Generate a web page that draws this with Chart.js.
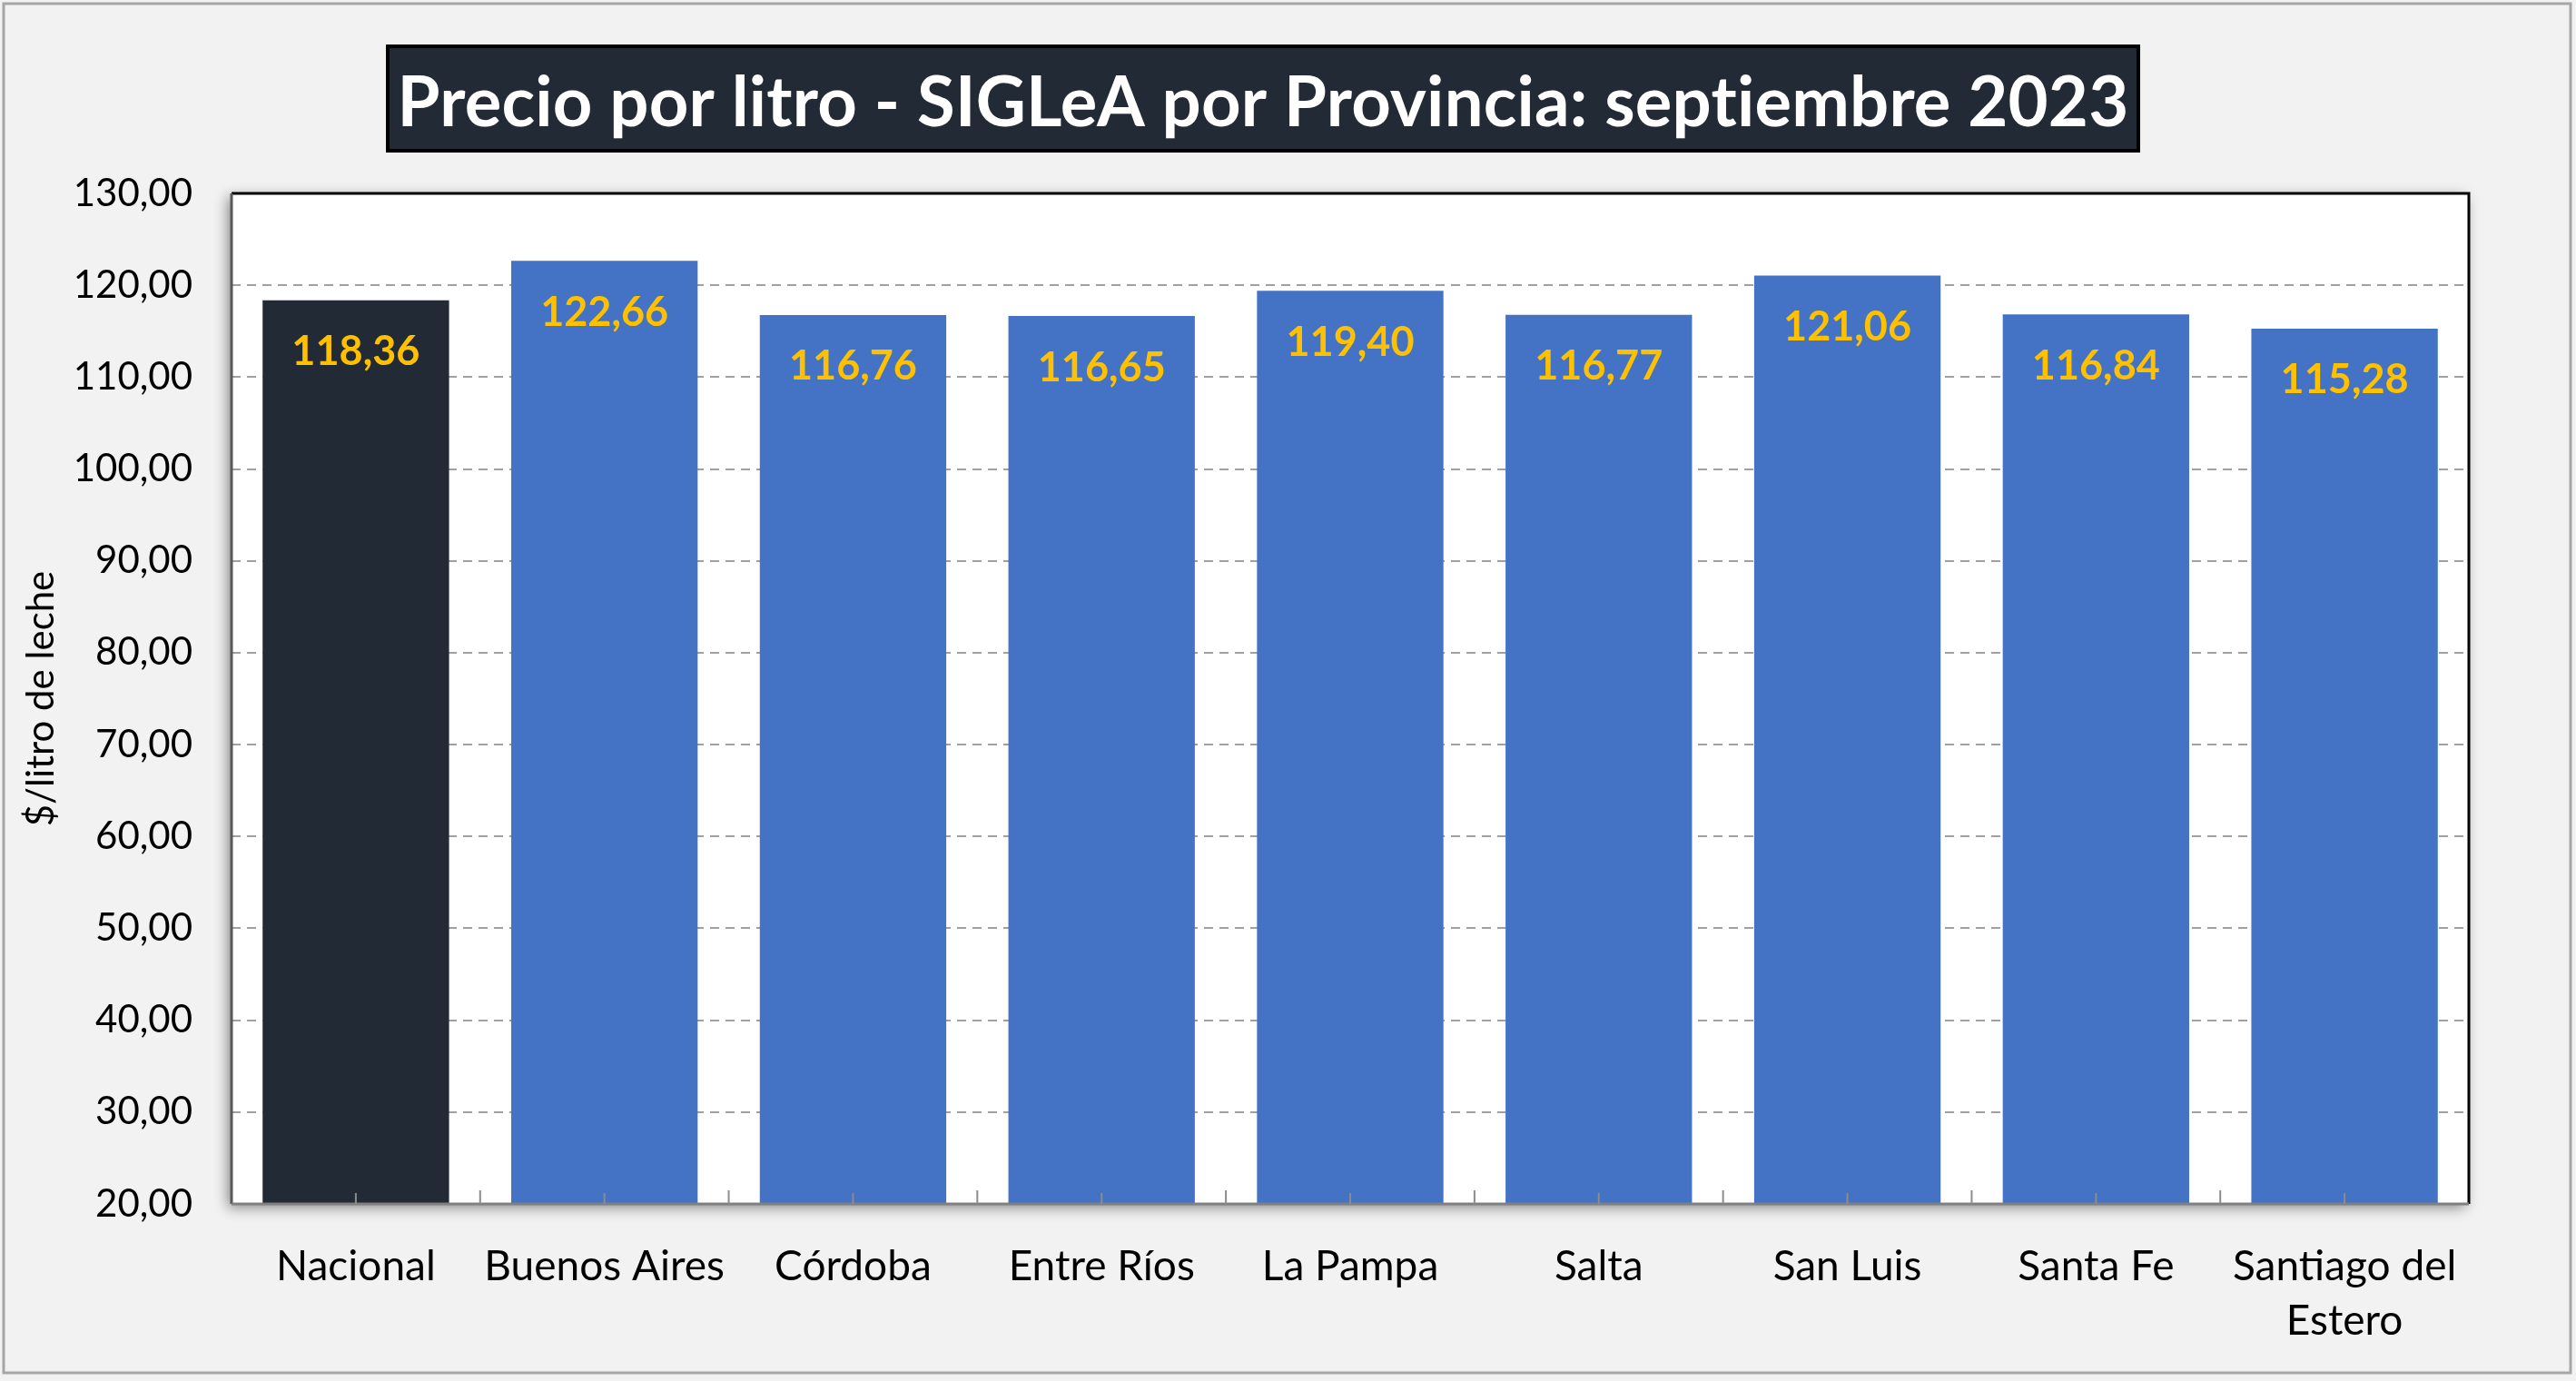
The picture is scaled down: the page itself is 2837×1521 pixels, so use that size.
<!DOCTYPE html>
<html>
<head>
<meta charset="utf-8">
<script src="https://cdn.jsdelivr.net/npm/chart.js@4.4.0/dist/chart.umd.min.js"></script>
<style>
  body { margin: 0; background: #ffffff; }
  #wrap { width: 2837px; height: 1521px; }
</style>
</head>
<body>
<div id="wrap"><canvas id="barChart" width="2837" height="1521"></canvas></div>
<script>
var provincias = ["Nacional", "Buenos Aires", "Córdoba", "Entre Ríos", "La Pampa", "Salta", "San Luis", "Santa Fe", ["Santiago del", "Estero"]];
var precios = [118.36, 122.66, 116.76, 116.65, 119.40, 116.77, 121.06, 116.84, 115.28];
var colores = ["#222a35", "#4472c4", "#4472c4", "#4472c4", "#4472c4", "#4472c4", "#4472c4", "#4472c4", "#4472c4"];
var titulo = "Precio por litro - SIGLeA por Provincia: septiembre 2023";
var tituloEje = "$/litro de leche";

var fuente = "Lato, 'Open Sans', sans-serif";
var coma = function (v) {
    return Number(v).toFixed(2).replace('.', ',');
};

// fondo gris, marco y area del grafico
var fondo = {
    id: 'fondo',
    beforeDraw: function (chart) {
        var ctx = chart.ctx;
        var a = chart.chartArea;
        ctx.save();
        ctx.fillStyle = '#f2f2f2';
        ctx.fillRect(0, 0, chart.width, chart.height);
        ctx.strokeStyle = '#a6a6a6';
        ctx.lineWidth = 3;
        ctx.strokeRect(4, 4, 2827, 1508);
        ctx.shadowColor = 'rgba(0,0,0,0.45)';
        ctx.shadowBlur = 14;
        ctx.shadowOffsetX = -4;
        ctx.shadowOffsetY = 4;
        ctx.fillStyle = '#ffffff';
        ctx.fillRect(a.left, a.top, a.right - a.left, a.bottom - a.top);
        ctx.restore();

        // titulo en caja oscura
        ctx.save();
        ctx.fillStyle = '#222a35';
        ctx.fillRect(427, 51, 1928, 115);
        ctx.strokeStyle = '#000000';
        ctx.lineWidth = 4;
        ctx.strokeRect(427, 51, 1928, 115);
        ctx.fillStyle = '#ffffff';
        ctx.font = "bold 76px " + fuente;
        ctx.letterSpacing = '0.2px';
        ctx.textAlign = 'center';
        ctx.textBaseline = 'middle';
        ctx.fillText(titulo, 1391, 114);
        ctx.restore();
    },
    afterDraw: function (chart) {
        var ctx = chart.ctx;
        var a = chart.chartArea;
        ctx.save();
        ctx.lineWidth = 3;
        ctx.strokeStyle = '#000000';
        ctx.beginPath();
        ctx.moveTo(a.left, a.top);
        ctx.lineTo(a.right, a.top);
        ctx.lineTo(a.right, a.bottom);
        ctx.stroke();
        ctx.strokeStyle = '#595959';
        ctx.beginPath();
        ctx.moveTo(a.left, a.top);
        ctx.lineTo(a.left, a.bottom);
        ctx.stroke();
        ctx.strokeStyle = '#808080';
        ctx.beginPath();
        ctx.moveTo(a.left, a.bottom);
        ctx.lineTo(a.right, a.bottom);
        ctx.stroke();

        // marcas cortas del eje x (centros y limites de categoria)
        var x = chart.scales.x;
        var paso = (a.right - a.left) / provincias.length;
        ctx.strokeStyle = '#8c8c8c';
        ctx.lineWidth = 2;
        ctx.beginPath();
        provincias.forEach(function (p, i) {
            var cx = x.getPixelForValue(i);
            ctx.moveTo(cx, a.bottom);
            ctx.lineTo(cx, a.bottom - 12);
            if (i > 0) {
                ctx.moveTo(cx - paso / 2, a.bottom);
                ctx.lineTo(cx - paso / 2, a.bottom - 15);
            }
        });
        ctx.stroke();
        ctx.restore();
    }
};

// etiquetas amarillas dentro de cada barra
var etiquetas = {
    id: 'etiquetas',
    afterDatasetsDraw: function (chart) {
        var ctx = chart.ctx;
        var meta = chart.getDatasetMeta(0);
        ctx.save();
        ctx.fillStyle = '#ffc000';
        ctx.font = "bold 45px " + fuente;
        ctx.textAlign = 'center';
        ctx.textBaseline = 'middle';
        meta.data.forEach(function (bar, i) {
            ctx.fillText(coma(precios[i]), bar.x, bar.y + 57);
        });
        ctx.restore();
    }
};

var ctx = document.getElementById("barChart").getContext("2d");
new Chart(ctx, {
    type: 'bar',
    data: {
        labels: provincias,
        datasets: [
            {
                label: titulo,
                data: precios,
                backgroundColor: colores,
                borderWidth: 0,
                barPercentage: 0.75,
                categoryPercentage: 1
            }
        ]
    },
    options: {
        responsive: false,
        animation: false,
        devicePixelRatio: 1,
        layout: {
            padding: { left: 20, right: 118, top: 213, bottom: 0 }
        },
        plugins: {
            legend: { display: false },
            title: { display: false },
            tooltip: { enabled: false }
        },
        scales: {
            x: {
                grid: { display: false },
                border: { display: false },
                ticks: {
                    color: '#000000',
                    font: { family: fuente, size: 46, lineHeight: 1.3 },
                    padding: 31,
                    maxRotation: 0,
                    autoSkip: false
                },
                afterFit: function (s) { s.height = 195; }
            },
            y: {
                min: 20,
                max: 130,
                border: { display: false, dash: [10, 7] },
                grid: {
                    color: '#a0a0a0',
                    lineWidth: 2,
                    drawTicks: false
                },
                ticks: {
                    stepSize: 10,
                    color: '#000000',
                    font: { family: fuente, size: 42 },
                    padding: 43,
                    callback: function (v) { return coma(v); }
                },
                title: {
                    display: true,
                    text: tituloEje,
                    color: '#000000',
                    font: { family: fuente, size: 42, lineHeight: 1.1 },
                    padding: { top: 2, bottom: 0 }
                },
                afterFit: function (s) { s.width = 235; }
            }
        }
    },
    plugins: [fondo, etiquetas]
});
</script>
</body>
</html>
